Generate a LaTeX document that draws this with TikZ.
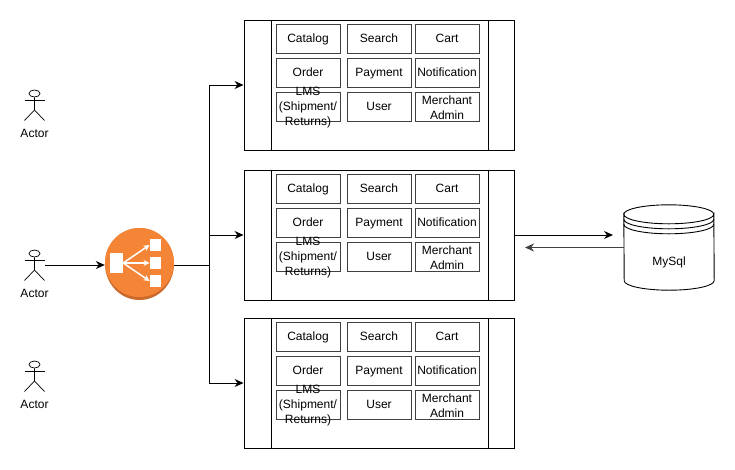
\documentclass[tikz,border=0pt]{standalone}
\usepackage{fontspec}
\setmainfont{Liberation Sans}
\usepackage{xcolor}
\usetikzlibrary{shapes, arrows.meta, positioning, calc}
\definecolor{lborange}{HTML}{F58536}
\definecolor{lbshade}{HTML}{C9692B}
\tikzset{
  panel/.style={draw, line width=0.9pt, minimum width=270pt, minimum height=130pt, inner sep=0pt},
  tag/.style={font=\fontsize{12}{15}\selectfont, inner sep=0pt, align=center},
  svc/.style={draw=black!75, line width=0.9pt, minimum width=64pt, minimum height=29pt, inner sep=0pt, text height=9.4pt, text depth=1.8pt, font=\fontsize{12}{15}\selectfont},
  link/.style={line width=0.9pt, -{Stealth[length=9pt,width=8pt]}},
  stick/.style={line width=0.7pt},
  crate/.style={fill=white, draw=none, inner sep=0pt}
}
\begin{document}
\begin{tikzpicture}[x=1pt,y=-1pt]
  \useasboundingbox (0,0) rectangle (735,469);

  % actors
  \foreach \n/\y in {a/0, b/160, c/271} {
    \node[draw, stick, ellipse, minimum width=11pt, minimum height=7pt, inner sep=0pt] (head\n) at (34.5,93.5+\y) {};
    \coordinate (arml\n) at (24.5,100+\y);
    \coordinate (armr\n) at (44.5,100+\y);
    \coordinate (hip\n) at (34.5,110+\y);
    \draw[stick] (head\n) -- (hip\n) -- (24.5,120.5+\y);
    \draw[stick] (hip\n) -- (44.5,120.5+\y);
    \draw[stick] (arml\n) -- (armr\n);
    \node[tag] (name\n) at (34.5,133.4+\y) {Actor};
  }
  \coordinate (actorb) at (45,265);

  % load balancer
  \node[ellipse, fill=lbshade, minimum width=69pt, minimum height=72pt, inner sep=0pt] (lbshadow) at (139.5,264) {};
  \node[ellipse, fill=lborange, minimum width=69pt, minimum height=69pt, inner sep=0pt] (lb) at (139.5,262.5) {};
  \node[crate, minimum width=13pt, minimum height=20pt] (lbsrc) at (116.5,263) {};
  \node[crate, minimum size=11.5pt] (lbtop) at (155.5,245) {};
  \node[crate, minimum size=11.5pt] (lbmid) at (155.5,263) {};
  \node[crate, minimum size=11.5pt] (lbbot) at (155.5,281) {};
  \foreach \t in {lbtop, lbmid, lbbot}
    \draw[white, line width=1.5pt, -{Stealth[length=6pt,width=6pt]}] (lbsrc.east) -- (\t.west);

  % server panels
  \foreach \p/\y in {a/85, b/235, c/383} {
    \node[panel] (panel\p) at (379,\y) {};
    \draw[line width=0.9pt] ($(panel\p.north west)+(27.5,0)$) -- ($(panel\p.south west)+(27.5,0)$);
    \draw[line width=0.9pt] ($(panel\p.north east)+(-26.5,0)$) -- ($(panel\p.south east)+(-26.5,0)$);

    \node[svc] (catalog\p) at (308,\y-46) {Catalog};
    \node[svc] (search\p) at (379,\y-46) {Search};
    \node[svc] (cart\p) at (447,\y-46) {Cart};
    \node[svc] (order\p) at (308,\y-12) {Order};
    \node[svc] (payment\p) at (379,\y-12) {Payment};
    \node[svc] (notify\p) at (447,\y-12) {Notification};
    \node[svc] (lms\p) at (308,\y+22) {};
    \node[tag, yshift=-0.8pt] (lmstext\p) at (lms\p) {LMS\\(Shipment/\\Returns)};
    \node[svc] (user\p) at (379,\y+22) {User};
    \node[svc] (merchant\p) at (447,\y+22) {};
    \node[tag, yshift=-0.8pt] (merchanttext\p) at (merchant\p) {Merchant\\Admin};
  }

  % database
  \node[minimum width=90pt, minimum height=85pt, inner sep=0pt] (db) at (669,247.5) {};
  \node[tag] (dbname) at (669,262.6) {MySql};
  \draw[line width=0.9pt] (db.north west)++(0,9.5) coordinate (dbtl) arc[start angle=180, end angle=0, x radius=45, y radius=-9.5];
  \draw[line width=0.9pt] (dbtl) arc[start angle=180, end angle=360, x radius=45, y radius=-9.5] -- ($(db.south east)+(0,-9.5)$) arc[start angle=0, end angle=-180, x radius=45, y radius=-9.5] -- cycle;
  \draw[line width=0.9pt] ($(dbtl)+(0,5)$) arc[start angle=180, end angle=360, x radius=45, y radius=-9.5];
  \draw[line width=0.9pt] ($(dbtl)+(0,10)$) arc[start angle=180, end angle=360, x radius=45, y radius=-9.5];

  % connectors
  \coordinate (split) at (209,265);
  \coordinate (dbin) at (613,235);
  \coordinate (dbout) at (525,247.5);
  \draw[link] (actorb) -- (lb.west |- actorb);
  \draw[line width=0.9pt] (lb.east |- split) -- (split);
  \draw[link] (split) |- (panela.west);
  \draw[link] (split) |- (panelb.west);
  \draw[link] (split) |- (panelc.west);
  \draw[link] (panelb.east) -- (dbin);
  \draw[link, line width=1.3pt, black!75] (db.west) -- (dbout);
\end{tikzpicture}
\end{document}
